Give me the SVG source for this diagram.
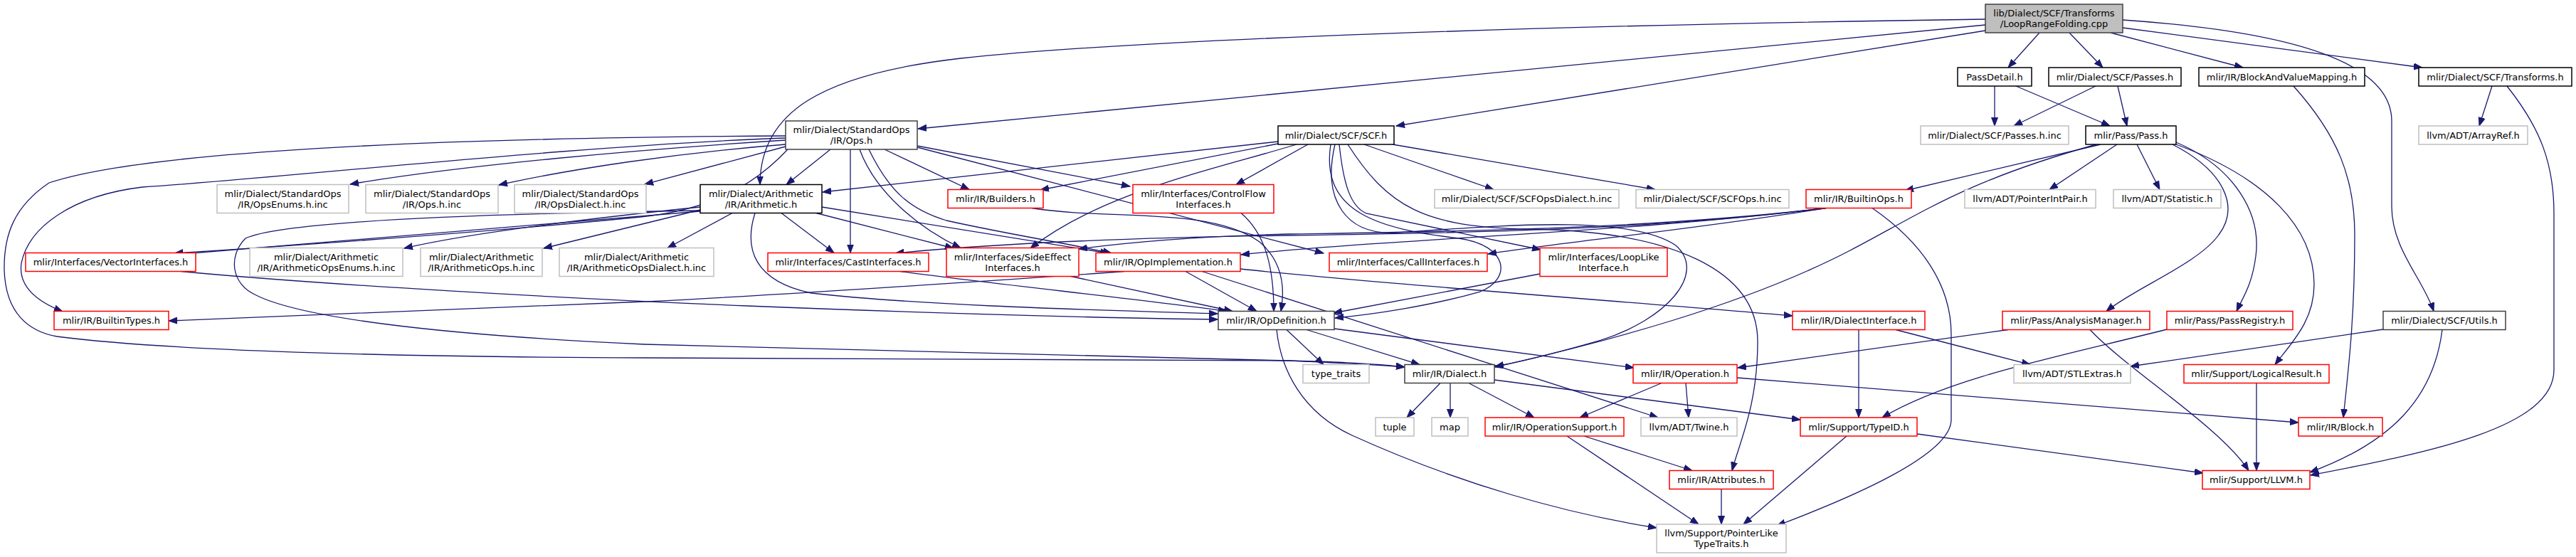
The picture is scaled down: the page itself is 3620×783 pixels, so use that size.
<svg xmlns="http://www.w3.org/2000/svg" width="3620" height="783" viewBox="0 0 3620 783">
<defs>
<marker id="ah" markerUnits="userSpaceOnUse" markerWidth="13" markerHeight="10" refX="12" refY="5" orient="auto"><path d="M0,0.5 L12,5 L0,9.5 z" fill="#191970" stroke="#191970" stroke-width="1"/></marker>
</defs>
<style>
text{font-family:"DejaVu Sans","Liberation Sans",sans-serif;font-size:13px;fill:#000;text-anchor:middle}
.n rect{fill:#fff;stroke-width:1.5}
.k rect{stroke:#000}
.d rect{stroke:#404040}
.r rect{stroke:#ff0000}
.g rect{stroke:#bfbfbf}
.root rect{fill:#bfbfbf;stroke:#404040}
#edges path{fill:none;stroke:#191970;stroke-width:1.3;marker-end:url(#ah)}
</style>
<rect x="0" y="0" width="3620" height="783" fill="#fff"/>
<g id="edges">
<path d="M2866,46 L2822,95"/>
<path d="M2908,46 L2955,95"/>
<path d="M2966,46 L3152,95"/>
<path d="M2983,39 L3404,95"/>
<path d="M2983,28 C3230,45 3361,90 3361,170 L3361,290 C3361,350 3405,392 3420,437.5"/>
<path d="M2790,35 L1290,181"/>
<path d="M2790,27 C2200,35 1600,55 1350,82 C1150,105 1068,160 1068,259.5"/>
<path d="M2790,43 L1962,177"/>
<path d="M2803,121 L2803,177"/>
<path d="M2833,121 L2965,177"/>
<path d="M2945,121 L2830,177"/>
<path d="M2976,121 L2989,177"/>
<path d="M3223,121 C3285,190 3309,250 3309,330 C3309,450 3300,520 3293,587"/>
<path d="M3502,121 L3484,177"/>
<path d="M3523,121 C3570,180 3589,230 3589,300 L3589,520 C3589,600 3420,635 3247,668"/>
<path d="M2975,203 L2880,266.5"/>
<path d="M3003,203 L3035,266.5"/>
<path d="M2952,203 L2677,268"/>
<path d="M2946,203 C2760,255 2700,300 2600,352 C2450,430 2250,482 2101,516"/>
<path d="M3053,203 C3125,240 3148,290 3118,330 C3090,370 3000,405 2960,437.5"/>
<path d="M3058,200 C3140,235 3178,300 3170,360 C3165,400 3152,418 3143,437.5"/>
<path d="M3058,203 C3185,250 3252,320 3252,400 C3252,450 3222,480 3197,512.5"/>
<path d="M1917,203 L2099,266.5"/>
<path d="M1957,203 L2326,266.5"/>
<path d="M1796,199 L1156,270"/>
<path d="M1796,202 L1462,267"/>
<path d="M1822,203 C1700,240 1550,270 1448,349"/>
<path d="M1838,203 L1737,259.5"/>
<path d="M1882,203 C1888,260 1898,290 1920,300 L2165,351"/>
<path d="M1894,203 C1950,290 2000,320 2150,322 C2350,325 2470,380 2470,480 C2470,570 2445,620 2434,661.5"/>
<path d="M1876,203 C1858,280 1890,332 1965,327 C2100,318 2290,300 2355,345 C2400,385 2340,450 2250,478 C2180,498 2130,510 2101,515"/>
<path d="M1870,203 C1855,300 1940,322 2050,335 C2120,345 2125,392 2080,410 C2010,430 1930,442 1876,447"/>
<path d="M1104,197 C900,210 650,232 492,259"/>
<path d="M1104,203 C950,215 800,238 701,260"/>
<path d="M1104,206 L906,259"/>
<path d="M1104,191 C600,194 200,213 69,257 C20,290 5,330 6,380 C8,440 40,466 80,473 C250,495 600,502 905,503 L1810,507 C1900,509 1940,512 1974,516"/>
<path d="M1104,194 C800,205 400,250 200,263 C100,275 40,320 30,370 C25,405 55,425 88,438"/>
<path d="M1107,210 C1060,260 1000,295 900,305 C700,325 420,345 245,356"/>
<path d="M1167,210 L1105,259.5"/>
<path d="M1195,210 L1195,355.5"/>
<path d="M1208,210 C1230,270 1290,320 1350,348.5"/>
<path d="M1243,210 L1362,266.5"/>
<path d="M1289,205 L1588,262"/>
<path d="M1221,210 C1250,270 1280,295 1330,310 C1420,330 1500,342 1562,356"/>
<path d="M1289,207 L1860,356"/>
<path d="M984,291 C800,310 650,330 568,349"/>
<path d="M984,295 L764,349"/>
<path d="M1029,299.5 L938,348.5"/>
<path d="M984,297 C700,320 450,342 245,358"/>
<path d="M1098,299.5 L1172,355.5"/>
<path d="M1147,299.5 L1340,349"/>
<path d="M1155,291 L1558,356"/>
<path d="M1061,299.5 C1045,350 1060,395 1140,412 C1300,430 1550,436 1711,441"/>
<path d="M984,296 C700,300 400,310 345,335 C320,360 325,400 360,415 C420,445 600,470 905,484 L1810,507 C1880,510 1940,513 1974,516"/>
<path d="M1450,292.5 C1560,310 1700,290 1770,340 C1805,370 1805,410 1800,437.5"/>
<path d="M1744,299.5 C1780,330 1790,380 1790,437.5"/>
<path d="M1265,381.5 C1400,400 1600,420 1724,437.5"/>
<path d="M1505,388.5 L1732,437.5"/>
<path d="M1666,381.5 L1766,437.5"/>
<path d="M254,381.5 C450,400 800,420 1050,430 C1350,442 1600,448 1711,449"/>
<path d="M2164,385 L1874,440"/>
<path d="M1580,381.5 C1400,395 1000,420 905,424 C600,435 400,445 237,451"/>
<path d="M1689,381.5 L2330,587"/>
<path d="M1743,378 C1950,400 2300,425 2519,444"/>
<path d="M2566,292.5 C2400,320 2200,340 2091,357"/>
<path d="M2566,292.5 C2300,326 2000,328 1810,331 C1600,334 1400,342 1258,356"/>
<path d="M2566,292.5 C2300,324 2000,326 1810,329 C1700,332 1590,340 1516,350"/>
<path d="M2566,292.5 C2300,326 1950,336 1744,358"/>
<path d="M2631,292.5 C2700,340 2742,400 2742,470 L2742,590 C2742,640 2600,700 2497,739"/>
<path d="M2024,538.5 L1977,587"/>
<path d="M2038,538.5 L2038,587"/>
<path d="M2064,538.5 L2156,587"/>
<path d="M2100,534 L2530,590"/>
<path d="M1808,463.5 L1860,512.5"/>
<path d="M1836,463.5 L1995,512.5"/>
<path d="M1875,462 L2296,517"/>
<path d="M1794,463.5 C1800,520 1830,580 1900,612 C2050,680 2200,722 2328,742"/>
<path d="M2335,538.5 L2220,587"/>
<path d="M2369,538.5 L2373,587"/>
<path d="M2441,531 L3230,594"/>
<path d="M2226,613 L2378,661.5"/>
<path d="M2202,613 L2387,737"/>
<path d="M2419,687.5 L2419,737"/>
<path d="M2595,613 L2450,737"/>
<path d="M2694,610 L3096,665"/>
<path d="M2612,463.5 L2612,587"/>
<path d="M2664,463.5 L2853,512.5"/>
<path d="M2822,463.5 L2442,517"/>
<path d="M2937,463.5 C2990,520 3120,600 3160,661.5"/>
<path d="M3045,463 C2900,500 2740,530 2645,587"/>
<path d="M3349,463 L2994,515"/>
<path d="M3432,463.5 C3420,560 3360,622 3246,664"/>
<path d="M3171,538.5 L3171,661.5"/>
</g>
<g id="nA" class="n root"><rect x="2790" y="6" width="193" height="40"/><text x="2886.5" y="23">lib/Dialect/SCF/Transforms</text><text x="2886.5" y="38">/LoopRangeFolding.cpp</text></g>
<g id="nB" class="n k"><rect x="2751" y="95" width="104" height="26"/><text x="2803" y="112.5">PassDetail.h</text></g>
<g id="nC" class="n k"><rect x="2879" y="95" width="186" height="26"/><text x="2972" y="112.5">mlir/Dialect/SCF/Passes.h</text></g>
<g id="nD" class="n k"><rect x="3090" y="95" width="233" height="26"/><text x="3206.5" y="112.5">mlir/IR/BlockAndValueMapping.h</text></g>
<g id="nE" class="n k"><rect x="3399" y="95" width="215" height="26"/><text x="3506.5" y="112.5">mlir/Dialect/SCF/Transforms.h</text></g>
<g id="nF" class="n d"><rect x="1104" y="170" width="185" height="40"/><text x="1196.5" y="187">mlir/Dialect/StandardOps</text><text x="1196.5" y="202">/IR/Ops.h</text></g>
<g id="nG" class="n k"><rect x="1796" y="177" width="163" height="26"/><text x="1877.5" y="194.5">mlir/Dialect/SCF/SCF.h</text></g>
<g id="nH" class="n g"><rect x="2699" y="177" width="208" height="26"/><text x="2803" y="194.5">mlir/Dialect/SCF/Passes.h.inc</text></g>
<g id="nI" class="n k"><rect x="2931" y="177" width="127" height="26"/><text x="2994.5" y="194.5">mlir/Pass/Pass.h</text></g>
<g id="nJ" class="n g"><rect x="3399" y="177" width="153" height="26"/><text x="3475.5" y="194.5">llvm/ADT/ArrayRef.h</text></g>
<g id="nK1" class="n g"><rect x="305" y="259.5" width="185" height="40"/><text x="397.5" y="276.5">mlir/Dialect/StandardOps</text><text x="397.5" y="291.5">/IR/OpsEnums.h.inc</text></g>
<g id="nK2" class="n g"><rect x="514" y="259.5" width="186" height="40"/><text x="607" y="276.5">mlir/Dialect/StandardOps</text><text x="607" y="291.5">/IR/Ops.h.inc</text></g>
<g id="nK3" class="n g"><rect x="723" y="259.5" width="185" height="40"/><text x="815.5" y="276.5">mlir/Dialect/StandardOps</text><text x="815.5" y="291.5">/IR/OpsDialect.h.inc</text></g>
<g id="nL" class="n k"><rect x="984" y="259.5" width="171" height="40"/><text x="1069.5" y="276.5">mlir/Dialect/Arithmetic</text><text x="1069.5" y="291.5">/IR/Arithmetic.h</text></g>
<g id="nM" class="n r"><rect x="1332" y="266.5" width="134" height="26"/><text x="1399" y="284">mlir/IR/Builders.h</text></g>
<g id="nN" class="n r"><rect x="1592" y="259.5" width="198" height="40"/><text x="1691" y="276.5">mlir/Interfaces/ControlFlow</text><text x="1691" y="291.5">Interfaces.h</text></g>
<g id="nO1" class="n g"><rect x="2016" y="266.5" width="259" height="26"/><text x="2145.5" y="284">mlir/Dialect/SCF/SCFOpsDialect.h.inc</text></g>
<g id="nO2" class="n g"><rect x="2299" y="266.5" width="215" height="26"/><text x="2406.5" y="284">mlir/Dialect/SCF/SCFOps.h.inc</text></g>
<g id="nP" class="n r"><rect x="2538" y="266.5" width="148" height="26"/><text x="2612" y="284">mlir/IR/BuiltinOps.h</text></g>
<g id="nQ1" class="n g"><rect x="2761" y="266.5" width="184" height="26"/><text x="2853" y="284">llvm/ADT/PointerIntPair.h</text></g>
<g id="nQ2" class="n g"><rect x="2970" y="266.5" width="151" height="26"/><text x="3045.5" y="284">llvm/ADT/Statistic.h</text></g>
<g id="nR" class="n r"><rect x="36" y="355.5" width="239" height="26"/><text x="155.5" y="373">mlir/Interfaces/VectorInterfaces.h</text></g>
<g id="nS1" class="n g"><rect x="351" y="348.5" width="215" height="40"/><text x="458.5" y="365.5">mlir/Dialect/Arithmetic</text><text x="458.5" y="380.5">/IR/ArithmeticOpsEnums.h.inc</text></g>
<g id="nS2" class="n g"><rect x="591" y="348.5" width="171" height="40"/><text x="676.5" y="365.5">mlir/Dialect/Arithmetic</text><text x="676.5" y="380.5">/IR/ArithmeticOps.h.inc</text></g>
<g id="nS3" class="n g"><rect x="786" y="348.5" width="217" height="40"/><text x="894.5" y="365.5">mlir/Dialect/Arithmetic</text><text x="894.5" y="380.5">/IR/ArithmeticOpsDialect.h.inc</text></g>
<g id="nT" class="n r"><rect x="1079" y="355.5" width="226" height="26"/><text x="1192" y="373">mlir/Interfaces/CastInterfaces.h</text></g>
<g id="nU" class="n r"><rect x="1330" y="348.5" width="186" height="40"/><text x="1423" y="365.5">mlir/Interfaces/SideEffect</text><text x="1423" y="380.5">Interfaces.h</text></g>
<g id="nV" class="n r"><rect x="1540" y="355.5" width="203" height="26"/><text x="1641.5" y="373">mlir/IR/OpImplementation.h</text></g>
<g id="nW" class="n r"><rect x="1868" y="355.5" width="222" height="26"/><text x="1979" y="373">mlir/Interfaces/CallInterfaces.h</text></g>
<g id="nX" class="n r"><rect x="2164" y="348.5" width="179" height="40"/><text x="2253.5" y="365.5">mlir/Interfaces/LoopLike</text><text x="2253.5" y="380.5">Interface.h</text></g>
<g id="nY" class="n r"><rect x="76" y="437.5" width="161" height="26"/><text x="156.5" y="455">mlir/IR/BuiltinTypes.h</text></g>
<g id="nZ" class="n d"><rect x="1712" y="437.5" width="163" height="26"/><text x="1793.5" y="455">mlir/IR/OpDefinition.h</text></g>
<g id="nAA" class="n r"><rect x="2519" y="437.5" width="186" height="26"/><text x="2612" y="455">mlir/IR/DialectInterface.h</text></g>
<g id="nAB" class="n r"><rect x="2814" y="437.5" width="207" height="26"/><text x="2917.5" y="455">mlir/Pass/AnalysisManager.h</text></g>
<g id="nAC" class="n r"><rect x="3045" y="437.5" width="177" height="26"/><text x="3133.5" y="455">mlir/Pass/PassRegistry.h</text></g>
<g id="nAD" class="n d"><rect x="3349" y="437.5" width="172" height="26"/><text x="3435" y="455">mlir/Dialect/SCF/Utils.h</text></g>
<g id="nAE" class="n g"><rect x="1831" y="512.5" width="93" height="26"/><text x="1877.5" y="530">type_traits</text></g>
<g id="nAF" class="n d"><rect x="1974" y="512.5" width="126" height="26"/><text x="2037" y="530">mlir/IR/Dialect.h</text></g>
<g id="nAG" class="n r"><rect x="2295" y="512.5" width="146" height="26"/><text x="2368" y="530">mlir/IR/Operation.h</text></g>
<g id="nAH" class="n g"><rect x="2830" y="512.5" width="164" height="26"/><text x="2912" y="530">llvm/ADT/STLExtras.h</text></g>
<g id="nAI" class="n r"><rect x="3069" y="512.5" width="204" height="26"/><text x="3171" y="530">mlir/Support/LogicalResult.h</text></g>
<g id="nAJ" class="n g"><rect x="1933" y="587" width="54" height="26"/><text x="1960" y="604.5">tuple</text></g>
<g id="nAK" class="n g"><rect x="2012" y="587" width="51" height="26"/><text x="2037.5" y="604.5">map</text></g>
<g id="nAL" class="n r"><rect x="2087" y="587" width="195" height="26"/><text x="2184.5" y="604.5">mlir/IR/OperationSupport.h</text></g>
<g id="nAM" class="n g"><rect x="2306" y="587" width="135" height="26"/><text x="2373.5" y="604.5">llvm/ADT/Twine.h</text></g>
<g id="nAN" class="n r"><rect x="2530" y="587" width="164" height="26"/><text x="2612" y="604.5">mlir/Support/TypeID.h</text></g>
<g id="nAO" class="n r"><rect x="3230" y="587" width="118" height="26"/><text x="3289" y="604.5">mlir/IR/Block.h</text></g>
<g id="nAP" class="n r"><rect x="2346" y="661.5" width="146" height="26"/><text x="2419" y="679">mlir/IR/Attributes.h</text></g>
<g id="nAQ" class="n r"><rect x="3095" y="661.5" width="151" height="26"/><text x="3170.5" y="679">mlir/Support/LLVM.h</text></g>
<g id="nAR" class="n g"><rect x="2328" y="737" width="182" height="40"/><text x="2419" y="754">llvm/Support/PointerLike</text><text x="2419" y="769">TypeTraits.h</text></g>
</svg>
